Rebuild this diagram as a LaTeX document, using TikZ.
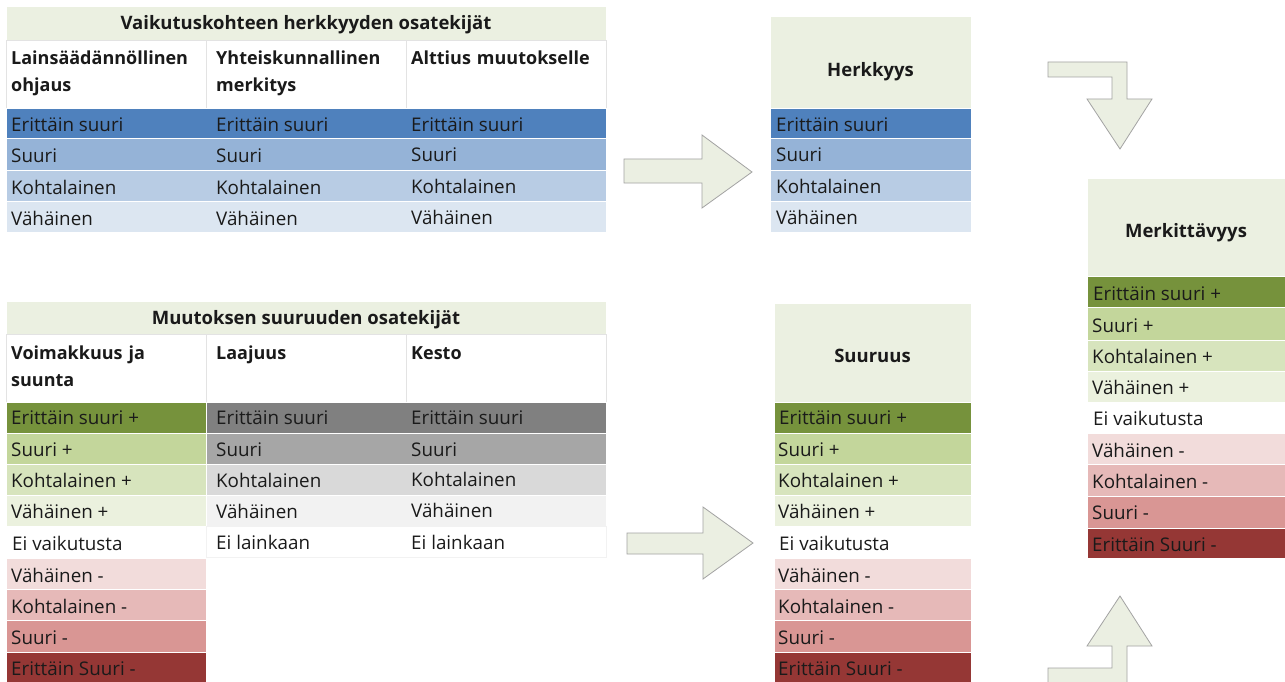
\documentclass[tikz,border=0pt]{standalone}
\usepackage{fontspec}
\setmainfont{Open Sans}
\definecolor{hdr}{HTML}{EBF0E1}
\definecolor{blueA}{HTML}{4F81BD}
\definecolor{blueB}{HTML}{95B3D7}
\definecolor{blueC}{HTML}{B8CCE4}
\definecolor{blueD}{HTML}{DCE6F1}
\definecolor{greenA}{HTML}{76923C}
\definecolor{greenB}{HTML}{C3D69B}
\definecolor{greenC}{HTML}{D7E4BD}
\definecolor{greenD}{HTML}{EBF1DE}
\definecolor{redA}{HTML}{F2DCDB}
\definecolor{redB}{HTML}{E6B9B8}
\definecolor{redC}{HTML}{D99694}
\definecolor{redD}{HTML}{953735}
\definecolor{grayA}{HTML}{808080}
\definecolor{grayB}{HTML}{A6A6A6}
\definecolor{grayC}{HTML}{D9D9D9}
\definecolor{grayD}{HTML}{F2F2F2}
\definecolor{arrfill}{HTML}{EBEFE2}
\definecolor{arrline}{HTML}{A3A3A3}
\definecolor{txt}{HTML}{1A1A1A}
\definecolor{sep}{HTML}{E3E3E3}
\newcommand\mkcell[6]{\node[cellbox,fill=#6,minimum width=#4pt,minimum height=#5pt] (#1) at (#2,#3) {};}
\newcommand\mklbl[4]{\node[lbl] (#1) at (#2,#3) {#4};}
\begin{document}
\begin{tikzpicture}[x=1pt,y=-1pt,
  cellbox/.style={rectangle,draw=white,line width=0.8pt,anchor=north west,inner sep=0pt,outer sep=0pt},
  headcell/.style={cellbox,draw=sep,fill=white},
  lbl/.style={anchor=west,inner sep=0pt,yshift=-0.6pt,text=txt,font=\fontsize{18.8}{27}\selectfont},
  hdrtext/.style={inner sep=0pt,text=txt,font=\fontsize{18.5}{27}\selectfont\bfseries},
  coltext/.style={anchor=north west,inner sep=0pt,text=txt,align=left,text width=190pt,font=\fontsize{18}{27}\selectfont\bfseries},
  blockarrow/.style={fill=arrfill,draw=arrline,line width=0.8pt,line join=miter}]
\useasboundingbox (0,0) rectangle (1285,682);
\fill[white] (0,0) rectangle (1285,682);

% ---------- top-left table ----------
\mkcell{hA}{6}{6}{600}{34}{hdr}
\node[hdrtext] (hAt) at (306,25) {Vaikutuskohteen herkkyyden osatekijät};
\node[headcell,minimum width=200pt,minimum height=68pt] (cA1) at (6,40) {};
\node[headcell,minimum width=200pt,minimum height=68pt] (cA2) at (206,40) {};
\node[headcell,minimum width=200pt,minimum height=68pt] (cA3) at (406,40) {};
\node[coltext] (cA1t) at (11,51) {Lainsäädännöllinen\\ohjaus};
\node[coltext] (cA2t) at (216,51) {Yhteiskunnallinen\\merkitys};
\node[coltext] (cA3t) at (411,51) {Alttius muutokselle};
\mkcell{a1}{6}{108}{600}{30}{blueA}
\mkcell{a2}{6}{138}{600}{32}{blueB}
\mkcell{a3}{6}{170}{600}{31}{blueC}
\mkcell{a4}{6}{201}{600}{31}{blueD}
\mklbl{a1x}{11}{124}{Erittäin suuri}\mklbl{a1y}{216}{124}{Erittäin suuri}\mklbl{a1z}{411}{124}{Erittäin suuri}
\mklbl{a2x}{11}{155}{Suuri}\mklbl{a2y}{216}{155}{Suuri}\mklbl{a2z}{411}{154}{Suuri}
\mklbl{a3x}{11}{187}{Kohtalainen}\mklbl{a3y}{216}{187}{Kohtalainen}\mklbl{a3z}{411}{186}{Kohtalainen}
\mklbl{a4x}{11}{218}{Vähäinen}\mklbl{a4y}{216}{218}{Vähäinen}\mklbl{a4z}{411}{217}{Vähäinen}

% ---------- Herkkyys ----------
\mkcell{hH}{770}{16}{201}{92}{hdr}
\node[hdrtext] (hHt) at (870.5,72) {Herkkyys};
\mkcell{h1}{770}{108}{201}{30}{blueA}
\mkcell{h2}{770}{138}{201}{32}{blueB}
\mkcell{h3}{770}{170}{201}{31}{blueC}
\mkcell{h4}{770}{201}{201}{31}{blueD}
\mklbl{h1t}{776}{124}{Erittäin suuri}
\mklbl{h2t}{776}{154}{Suuri}
\mklbl{h3t}{776}{186}{Kohtalainen}
\mklbl{h4t}{776}{217}{Vähäinen}

% ---------- bottom-left table ----------
\mkcell{hB}{6}{301}{600}{33}{hdr}
\node[hdrtext] (hBt) at (306,320) {Muutoksen suuruuden osatekijät};
\node[headcell,minimum width=200pt,minimum height=68pt] (cB1) at (6,334) {};
\node[headcell,minimum width=200pt,minimum height=68pt] (cB2) at (206,334) {};
\node[headcell,minimum width=200pt,minimum height=68pt] (cB3) at (406,334) {};
\node[coltext] (cB1t) at (11,346) {Voimakkuus ja\\suunta};
\node[coltext] (cB2t) at (216,346) {Laajuus};
\node[coltext] (cB3t) at (411,346) {Kesto};
\mkcell{g1}{6}{402}{200}{31}{greenA}
\mkcell{g2}{6}{433}{200}{31}{greenB}
\mkcell{g3}{6}{464}{200}{31}{greenC}
\mkcell{g4}{6}{495}{200}{31}{greenD}
\mkcell{g5}{6}{526}{200}{32}{white}
\mkcell{g6}{6}{558}{200}{31}{redA}
\mkcell{g7}{6}{589}{200}{31}{redB}
\mkcell{g8}{6}{620}{200}{32}{redC}
\mkcell{g9}{6}{652}{200}{31}{redD}
\mklbl{g1t}{11}{417}{Erittäin suuri +}
\mklbl{g2t}{11}{449}{Suuri +}
\mklbl{g3t}{11}{480}{Kohtalainen +}
\mklbl{g4t}{11}{511}{Vähäinen +}
\mklbl{g5t}{12}{543}{Ei vaikutusta}
\mklbl{g6t}{11}{575}{Vähäinen -}
\mklbl{g7t}{11}{606}{Kohtalainen -}
\mklbl{g8t}{11}{637}{Suuri -}
\mklbl{g9t}{11}{668}{Erittäin Suuri -}
\mkcell{k1}{206}{402}{400}{31}{grayA}
\mkcell{k2}{206}{433}{400}{31}{grayB}
\mkcell{k3}{206}{464}{400}{31}{grayC}
\mkcell{k4}{206}{495}{400}{31}{grayD}
\node[cellbox,draw=grayD,fill=white,minimum width=400pt,minimum height=31pt] (k5) at (206,526) {};
\mklbl{k1y}{216}{417}{Erittäin suuri}\mklbl{k1z}{411}{417}{Erittäin suuri}
\mklbl{k2y}{216}{449}{Suuri}\mklbl{k2z}{411}{449}{Suuri}
\mklbl{k3y}{216}{480}{Kohtalainen}\mklbl{k3z}{411}{479}{Kohtalainen}
\mklbl{k4y}{216}{511}{Vähäinen}\mklbl{k4z}{411}{510}{Vähäinen}
\mklbl{k5y}{216}{542}{Ei lainkaan}\mklbl{k5z}{411}{542}{Ei lainkaan}

% ---------- Suuruus ----------
\mkcell{hS}{774}{303}{197}{99}{hdr}
\node[hdrtext] (hSt) at (872.5,356) {Suuruus};
\mkcell{s1}{774}{402}{197}{31}{greenA}
\mkcell{s2}{774}{433}{197}{31}{greenB}
\mkcell{s3}{774}{464}{197}{31}{greenC}
\mkcell{s4}{774}{495}{197}{31}{greenD}
\mkcell{s5}{774}{526}{197}{32}{white}
\mkcell{s6}{774}{558}{197}{31}{redA}
\mkcell{s7}{774}{589}{197}{31}{redB}
\mkcell{s8}{774}{620}{197}{32}{redC}
\mkcell{s9}{774}{652}{197}{31}{redD}
\mklbl{s1t}{779}{417}{Erittäin suuri +}
\mklbl{s2t}{778}{449}{Suuri +}
\mklbl{s3t}{778}{480}{Kohtalainen +}
\mklbl{s4t}{778}{511}{Vähäinen +}
\mklbl{s5t}{779}{543}{Ei vaikutusta}
\mklbl{s6t}{778}{575}{Vähäinen -}
\mklbl{s7t}{778}{606}{Kohtalainen -}
\mklbl{s8t}{778}{637}{Suuri -}
\mklbl{s9t}{778}{668}{Erittäin Suuri -}

% ---------- Merkittävyys ----------
\mkcell{hM}{1087}{178}{198}{98}{hdr}
\node[hdrtext] (hMt) at (1186,233) {Merkittävyys};
\mkcell{m1}{1087}{276}{198}{31}{greenA}
\mkcell{m2}{1087}{307}{198}{33}{greenB}
\mkcell{m3}{1087}{340}{198}{31}{greenC}
\mkcell{m4}{1087}{371}{198}{31}{greenD}
\mkcell{m5}{1087}{402}{198}{31}{white}
\mkcell{m6}{1087}{433}{198}{31}{redA}
\mkcell{m7}{1087}{464}{198}{32}{redB}
\mkcell{m8}{1087}{496}{198}{32}{redC}
\mkcell{m9}{1087}{528}{198}{30}{redD}
\mklbl{m1t}{1093}{293}{Erittäin suuri +}
\mklbl{m2t}{1092}{325}{Suuri +}
\mklbl{m3t}{1092}{356}{Kohtalainen +}
\mklbl{m4t}{1092}{387}{Vähäinen +}
\mklbl{m5t}{1093}{418}{Ei vaikutusta}
\mklbl{m6t}{1092}{450}{Vähäinen -}
\mklbl{m7t}{1092}{481}{Kohtalainen -}
\mklbl{m8t}{1092}{512}{Suuri -}
\mklbl{m9t}{1092}{544}{Erittäin Suuri -}

% ---------- block arrows ----------
\draw[blockarrow] (624,159) -- (702,159) -- (702,135) -- (752,172) -- (702,208) -- (702,183) -- (624,183) -- cycle;
\draw[blockarrow] (627,533) -- (703,533) -- (703,507) -- (753,543) -- (703,579) -- (703,554) -- (627,554) -- cycle;
\draw[blockarrow] (1048,62) -- (1127,62) -- (1127,99) -- (1152,99) -- (1120,149) -- (1087,99) -- (1112,99) -- (1112,77) -- (1048,77) -- cycle;
\draw[blockarrow] (1048,668) -- (1112,668) -- (1112,646) -- (1087,646) -- (1120,596) -- (1152,646) -- (1127,646) -- (1127,686) -- (1048,686) -- cycle;
\end{tikzpicture}
\end{document}
